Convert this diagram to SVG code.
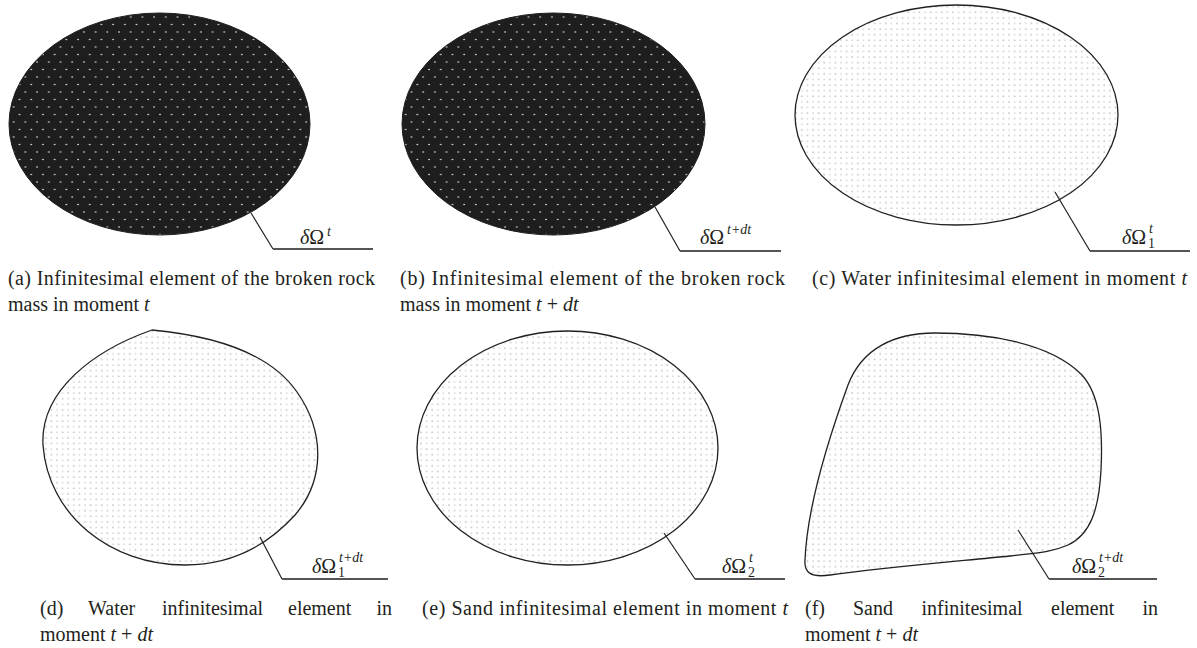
<svg xmlns="http://www.w3.org/2000/svg" width="1197" height="648" viewBox="0 0 1197 648">
<style>
.cap{font-family:"Liberation Serif",serif;font-size:20px;fill:#231f20}
.lab{font-family:"Liberation Serif",serif;font-size:20px;fill:#231f20}
.sup{font-family:"Liberation Serif",serif;font-size:14px;fill:#231f20}
.it{font-style:italic}
.dark{fill:url(#pd);stroke:#1e1e1e;stroke-width:1}
.light{fill:url(#pl);stroke:#231f20;stroke-width:1.3}
.ld{fill:none;stroke:#231f20;stroke-width:1.2}
.hl{fill:none;stroke:#555;stroke-width:2}
</style>
<defs>
<pattern id="pd" width="11.7" height="15" patternUnits="userSpaceOnUse">
<rect width="11.7" height="15" fill="#1e1e1f"/>
<circle cx="2" cy="2" r="0.8" fill="#fff"/>
<circle cx="7.85" cy="9.5" r="0.8" fill="#fff"/>
</pattern>
<pattern id="pl" width="11.2" height="11.2" patternUnits="userSpaceOnUse">
<rect width="11.2" height="11.2" fill="#fff"/>
<circle cx="1" cy="1" r="0.6" fill="#666"/>
<circle cx="6.6" cy="1" r="0.6" fill="#999"/>
<circle cx="1" cy="6.6" r="0.6" fill="#999"/>
<circle cx="6.6" cy="6.6" r="0.6" fill="#666"/>
</pattern>
</defs>

<g id="a">
<ellipse class="dark" cx="159.5" cy="124" rx="150.5" ry="111"/>
<text class="lab" x="300" y="244"><tspan class="it">δ</tspan>Ω</text>
<text class="sup it" x="327" y="236">t</text>
<text class="cap" x="8" y="285" textLength="367" lengthAdjust="spacing">(a)  Infinitesimal element of the broken rock</text>
<text class="cap" x="8" y="311">mass in moment <tspan class="it">t</tspan></text>
</g>

<g id="b">
<ellipse class="dark" cx="553.5" cy="124" rx="151.5" ry="111"/>
<text class="lab" x="700" y="244"><tspan class="it">δ</tspan>Ω</text>
<text class="sup it" x="727" y="234">t+dt</text>
<text class="cap" x="400" y="285" textLength="385" lengthAdjust="spacing">(b)  Infinitesimal element of the broken rock</text>
<text class="cap" x="400" y="311">mass in moment <tspan class="it">t</tspan> + <tspan class="it">dt</tspan></text>
</g>

<g id="c">
<ellipse class="light" cx="956.5" cy="115" rx="161.5" ry="110"/>
<text class="lab" x="1122" y="244"><tspan class="it">δ</tspan>Ω</text>
<text class="sup it" x="1149" y="233">t</text>
<text class="sup" x="1148" y="248">1</text>
<text class="cap" x="812" y="285" textLength="375" lengthAdjust="spacing">(c)  Water infinitesimal element in moment <tspan class="it">t</tspan></text>
</g>

<g id="d">
<path class="light" d="M152,330 C205,335 268,350 297,392 C325,432 325,480 295,515 C265,548 228,565 185,565 C110,565 48,515 43,445 C40,390 95,350 152,330 Z"/>
<text class="lab" x="312" y="573"><tspan class="it">δ</tspan>Ω</text>
<text class="sup it" x="339" y="562">t+dt</text>
<text class="sup" x="338" y="577">1</text>
<text class="cap" y="615"><tspan x="40">(d)</tspan><tspan x="88">Water</tspan><tspan x="162">infinitesimal</tspan><tspan x="288">element</tspan><tspan x="376.5">in</tspan></text>
<text class="cap" x="40" y="641">moment <tspan class="it">t</tspan> + <tspan class="it">dt</tspan></text>
</g>

<g id="e">
<ellipse class="light" cx="567.5" cy="448" rx="150.5" ry="117"/>
<text class="lab" x="722" y="573"><tspan class="it">δ</tspan>Ω</text>
<text class="sup it" x="749" y="562">t</text>
<text class="sup" x="748" y="577">2</text>
<text class="cap" x="422" y="615" textLength="366" lengthAdjust="spacing">(e)  Sand infinitesimal element in moment <tspan class="it">t</tspan></text>
</g>

<g id="f">
<path class="light" d="M848,385 C862,348 895,333 935,333 C985,333 1050,342 1082,375 C1100,395 1103,430 1101,470 C1099,510 1090,535 1068,545 C1050,553 1035,553 1010,556 C950,562 880,568 830,575 C810,578 804,572 805,560 C807,510 828,440 848,385 Z"/>
<text class="lab" x="1072" y="573"><tspan class="it">δ</tspan>Ω</text>
<text class="sup it" x="1099" y="562">t+dt</text>
<text class="sup" x="1098" y="577">2</text>
<text class="cap" y="615"><tspan x="805">(f)</tspan><tspan x="853">Sand</tspan><tspan x="921.5">infinitesimal</tspan><tspan x="1051">element</tspan><tspan x="1142.5">in</tspan></text>
<text class="cap" x="805" y="641">moment <tspan class="it">t</tspan> + <tspan class="it">dt</tspan></text>
</g>

<g id="connectors">
<polyline class="ld" points="251,213 273,249"/>
<line class="hl" x1="273" y1="249" x2="373" y2="249"/>
<polyline class="ld" points="655,207 680,251"/>
<line class="hl" x1="680" y1="251" x2="781" y2="251"/>
<polyline class="ld" points="1055,192 1090,251"/>
<line class="hl" x1="1090" y1="251" x2="1190" y2="251"/>
<polyline class="ld" points="260,537 282,579"/>
<line class="hl" x1="282" y1="579" x2="388" y2="579"/>
<polyline class="ld" points="664,533 695,579"/>
<line class="hl" x1="695" y1="579" x2="785" y2="579"/>
<polyline class="ld" points="1018,530 1049,579"/>
<line class="hl" x1="1049" y1="579" x2="1157" y2="579"/>
</g>
</svg>
